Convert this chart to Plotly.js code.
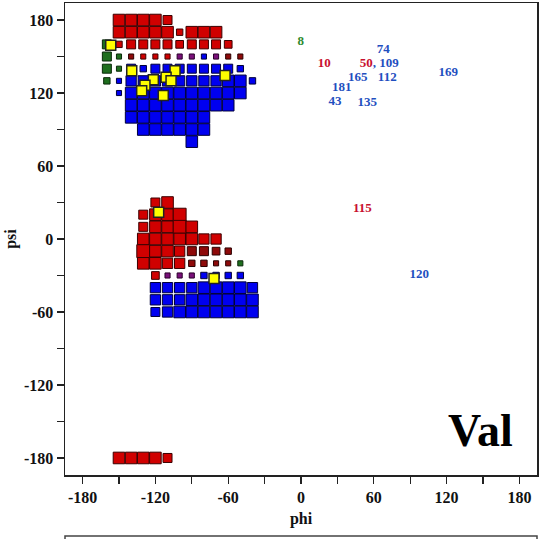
<!DOCTYPE html>
<html>
<head>
<meta charset="utf-8">
<script src="https://cdn.plot.ly/plotly-3.0.1.min.js"></script>
<style>html,body{margin:0;padding:0;background:#fff;}#plot{width:539px;height:539px;}</style>
</head>
<body>
<div id="plot"></div>
<script>
// ---- grid cell populations (phi, psi, level) per colour class ----
const redPhi   = [-150,-140,-130,-120,-110, -150,-140,-130,-120,-110,-100,-90,-80,-70, -150,-140,-130,-120,-110,-100,-90,-80,-70,-60, -130,-120,-110,
                  -120,-110, -130,-120,-110,-100, -130,-120,-110,-100,-90, -130,-120,-110,-100,-90,-80,-70, -130,-120,-110,-100, -130,-120,-110,-100, -120,
                  -150,-140,-130,-120,-110];
const redPsi   = [180,180,180,180,180, 170,170,170,170,170,170,170,170,170, 160,160,160,160,160,160,160,160,160,160, 150,150,150,
                  30,30, 20,20,20,20, 10,10,10,10,10, 0,0,0,0,0,0,0, -10,-10,-10,-10, -20,-20,-20,-20, -30,
                  -180,-180,-180,-180,-180];
const redLevel = [4,4,4,4,3, 4,4,4,4,4,2,4,4,4, 2,3,3,3,3,2.5,3,3,3,2.5, 1.5,1.5,1.5,
                  3,4, 3,4,4,4.5, 3,4,4,4.5,4, 4,4,4,4,4,3.5,3.5, 4.5,4,4,3.5, 4,4,3.5,3.5, 2.5,
                  4,4,4,4,3];

const darkPhi   = [-140,-60,-50, -90,-80,-70,-60, -90,-80,-70,-60];
const darkPsi   = [150,150,150, -10,-10,-10,-10, -20,-20,-20,-20];
const darkLevel = [1.5,1.5,1.5, 3,3,2.5,2, 2,2,1.5,1.5];

const purplePhi   = [-100,-90,-70, -110,-100,-90];
const purplePsi   = [150,150,150, -30,-30,-30];
const purpleLevel = [1.5,1.5,1.5, 1.5,1.5,1.5];

const greenPhi   = [-160, -160,-150, -160,-150, -160, -50];
const greenPsi   = [160, 150,150, 140,140, 130, -20];
const greenLevel = [3, 3,1.5, 3,1.5, 2, 1.5];

const bluePhi = [-80,
  -140,-130,-120,-110,-100,-90,-80,-70,-60,-50,
  -150,-140,-130,-120,-110,-100,-90,-80,-70,-60,-50,-40,
  -150,-140,-130,-120,-110,-100,-90,-80,-70,-60,-50,
  -140,-130,-120,-110,-100,-90,-80,-70,-60,
  -140,-130,-120,-110,-100,-90,-80,
  -130,-120,-110,-100,-90,-80,
  -90,
  -80,-70,-60,-50,
  -120,-110,-100,-90,-80,-70,-60,-50,-40,
  -120,-110,-100,-90,-80,-70,-60,-50,-40,
  -120,-110,-100,-90,-80,-70,-60,-50,-40];
const bluePsi = [150,
  140,140,140,140,140,140,140,140,140,140,
  130,130,130,130,130,130,130,130,130,130,130,130,
  120,120,120,120,120,120,120,120,120,120,120,
  110,110,110,110,110,110,110,110,110,
  100,100,100,100,100,100,100,
  90,90,90,90,90,90,
  80,
  -30,-30,-30,-30,
  -40,-40,-40,-40,-40,-40,-40,-40,-40,
  -50,-50,-50,-50,-50,-50,-50,-50,-50,
  -60,-60,-60,-60,-60,-60,-60,-60,-60];
const blueLevel = [1.5,
  3,2,3,3,3,3,3,3,3,2,
  1.5,3.5,3.5,3.5,3.5,3.5,3.5,3.5,3.5,4,4,2,
  1.5,4,4,4,4,4,4,4,4,4,4,
  4,4,4,4,4,4,4,4,4,
  4,4,4,4,4,4,4,
  4,4,4,4,4,4,
  4,
  2,2,2,2,
  3.5,3.5,3.5,3.5,4,4,4,4,3.5,
  3.5,3.5,3.5,4,4,4,4,4,4,
  3,3.5,4,4,4,4,4,4,4];

// ---- individual residues (yellow) ----
const resPhi = [-156.8,-139.5,-103.8,-62.6,-111.2,-107.1,-121.7,-128.6,-131.3,-113.5,-117.3,-71.7];
const resPsi = [159.2,138.4,138.4,134.5,132.9,130.1,131.0,126.3,121.9,118.0,22.0,-32.4];

// ---- outlier residue labels ----
const labText  = ['8','74','10','<span style="color:#c8102e">50</span>, 109','165','112','181','43','135','169','115','120'];
const labPhi   = [-0.2,67.8,19.2,64.5,46.7,71.1,33.5,28.0,54.7,121.4,50.5,97.5];
const labPsi   = [162.0,155.5,143.8,143.8,132.6,132.6,124.0,112.6,111.8,136.5,24.7,-29.7];
const labColor = ['#2e8b2e','#1f4fbf','#c8102e','#1f4fbf','#1f4fbf','#1f4fbf','#1f4fbf','#1f4fbf','#1f4fbf','#1f4fbf','#c8102e','#1f4fbf'];

const xTicks = [-180,-120,-60,0,60,120,180];
const yTicks = [-180,-120,-60,0,60,120,180];

const sizeOf = l => 2.6*l + 1.2;
function cells(phi, psi, lev, fill, line){
  return {type:'scatter', mode:'markers', x:phi, y:psi, hoverinfo:'skip',
    marker:{symbol:'square', size:lev.map(sizeOf), opacity:1, color:fill, line:{color:line, width:1}}};
}

const serif = 'Liberation Serif, Times New Roman, serif';
const traces = [
  cells(redPhi, redPsi, redLevel, '#d00000', '#3a0000'),
  cells(darkPhi, darkPsi, darkLevel, '#8e0a0a', '#2a0000'),
  cells(purplePhi, purplePsi, purpleLevel, '#7a107a', '#2a002a'),
  cells(greenPhi, greenPsi, greenLevel, '#1e6e1e', '#0a2a0a'),
  cells(bluePhi, bluePsi, blueLevel, '#0000f0', '#00003a'),
  {type:'scatter', mode:'markers', x:resPhi, y:resPsi, hoverinfo:'skip',
   marker:{symbol:'square', size:10, opacity:1, color:'#ffff00', line:{color:'#222', width:1.5}}},
  {type:'scatter', mode:'text', x:labPhi, y:labPsi, text:labText, hoverinfo:'skip',
   textposition:'middle center',
   textfont:{family:serif, size:13, weight:'bold', color:labColor}}
];

const axisCommon = {
  showgrid:false, zeroline:false, showline:true, linecolor:'#222', linewidth:1.5, mirror:true,
  ticks:'outside', ticklen:7, tickwidth:1.2, tickcolor:'#222',
  tickfont:{family:serif, size:16, weight:'bold', color:'#111'},
  minor:{dtick:30, ticks:'outside', ticklen:7, tickwidth:1.2, tickcolor:'#222', showgrid:false},
  fixedrange:true
};

const layout = {
  width:539, height:539,
  margin:{l:65, r:2, t:3, b:64},
  paper_bgcolor:'#fff', plot_bgcolor:'#fff',
  showlegend:false,
  xaxis:Object.assign({}, axisCommon, {range:[-194.5,194.5], tickvals:xTicks, ticktext:xTicks.map(String),
    title:{text:'phi', font:{family:serif, size:16, weight:'bold', color:'#111'}, standoff:8}}),
  yaxis:Object.assign({}, axisCommon, {range:[-194,194], tickvals:yTicks, ticktext:yTicks.map(String),
    title:{text:'psi', font:{family:serif, size:16, weight:'bold', color:'#111'}, standoff:3}}),
  annotations:[{xref:'paper', yref:'paper', x:0.881, y:0.035, xanchor:'center', yanchor:'bottom',
    text:'Val', showarrow:false, font:{family:serif, size:46, weight:'bold', color:'#000'}}],
  shapes:[{type:'rect', xref:'paper', yref:'paper', x0:0, x1:1.0, y0:-0.129, y1:-0.25,
    line:{color:'#444', width:1.5}, fillcolor:'rgba(0,0,0,0)'}]
};

Plotly.newPlot('plot', traces, layout, {displayModeBar:false, staticPlot:true});
</script>
</body>
</html>
